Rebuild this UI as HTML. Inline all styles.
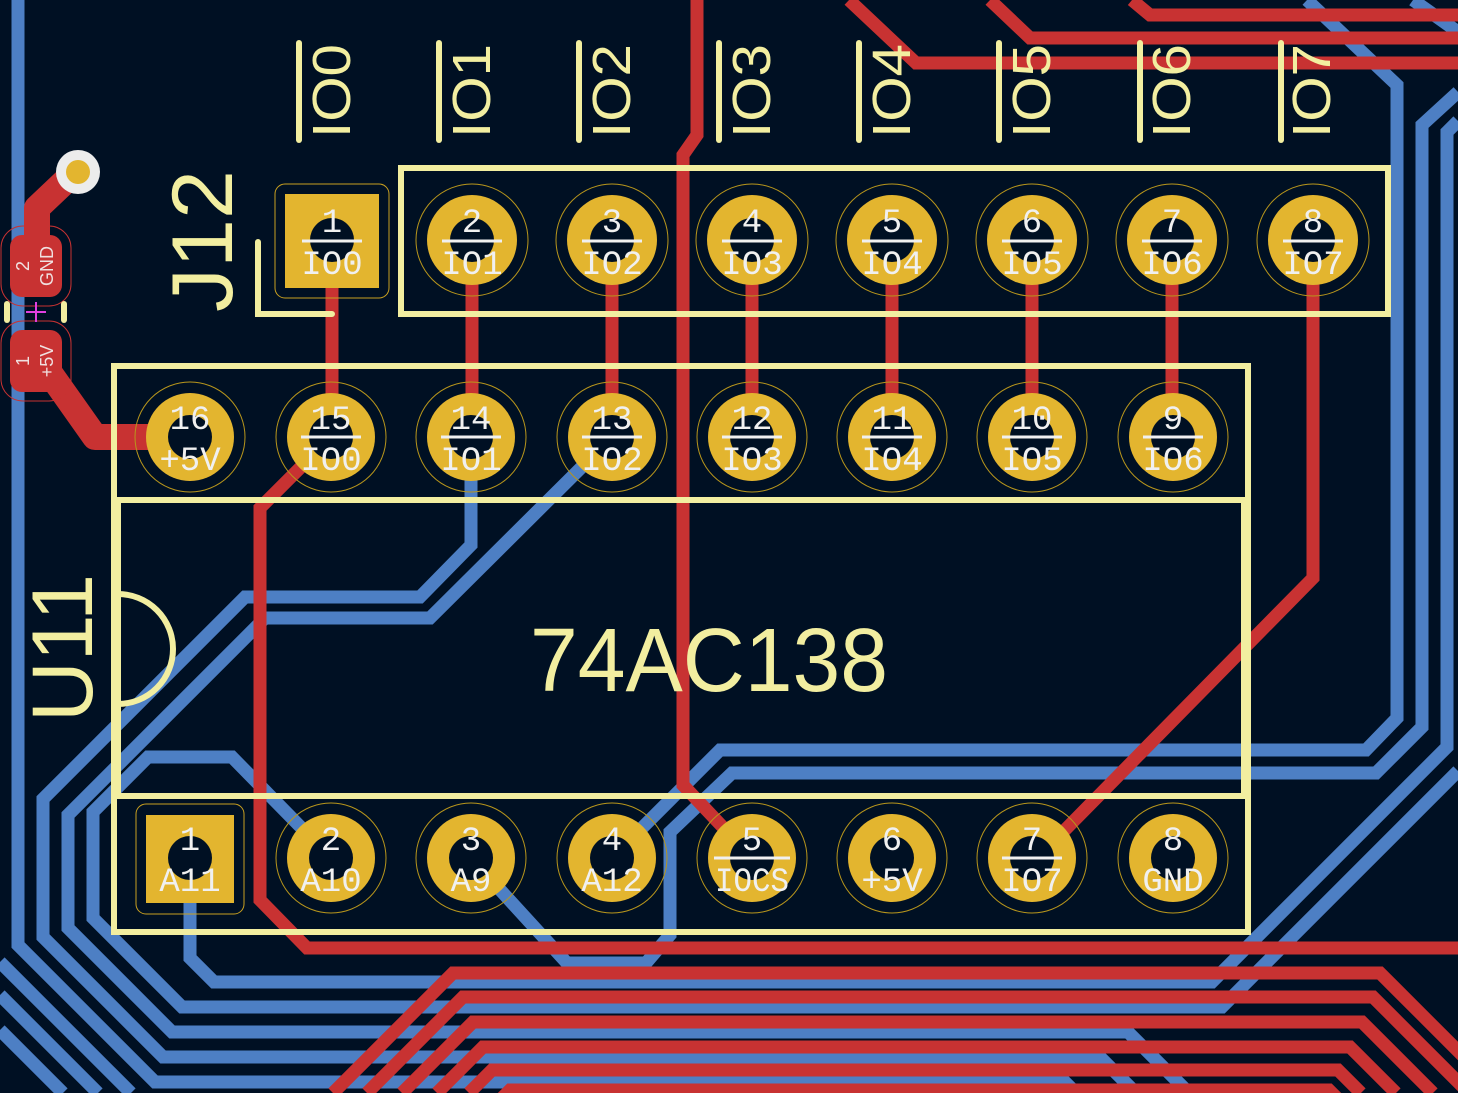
<!DOCTYPE html>
<html><head><meta charset="utf-8"><style>html,body{margin:0;padding:0;background:#001023;}svg{display:block}</style></head>
<body>
<svg width="1458" height="1093" viewBox="0 0 1458 1093" xmlns="http://www.w3.org/2000/svg">
<rect width="1458" height="1093" fill="#001023"/>
<g fill="none" stroke="#4d7fc4" stroke-width="13" stroke-linejoin="miter">
<polyline points="18,0 18,945 155,1082 1065,1082 1076,1093"/>
<polyline points="471,437 471,545 420,597 245,597 43,799 43,937 163,1057 1100,1057 1136,1093"/>
<polyline points="612,437 430,618 265,618 68,815 68,928 172,1032 1128,1032 1189,1093"/>
<polyline points="331,858 232,757 148,757 93,812 93,918 182,1007 1222,1007 1458,771"/>
<polyline points="190,858 190,958 214,982 1212,982 1447,747 1447,132 1458,121"/>
<polyline points="612,858 720,750 1366,750 1397,718 1397,85 1307,0"/>
<polyline points="471,858 567,963 646,963 670,935 670,832 732,773 1376,773 1422,727 1422,125 1458,92"/>
<polyline points="1413,0 1458,32"/>
<polyline points="0,962 131,1093"/>
<polyline points="0,995 98,1093"/>
<polyline points="0,1030 63,1093"/>
</g>
<g fill="none" stroke="#c83232" stroke-width="13" stroke-linejoin="miter">
<line x1="332" y1="240" x2="332" y2="437"/>
<line x1="472" y1="240" x2="472" y2="437"/>
<line x1="612" y1="240" x2="612" y2="437"/>
<line x1="752" y1="240" x2="752" y2="437"/>
<line x1="892" y1="240" x2="892" y2="437"/>
<line x1="1032" y1="240" x2="1032" y2="437"/>
<line x1="1172" y1="240" x2="1172" y2="437"/>
<polyline points="1313,240 1313,578 1060,835"/>
<polyline points="331,437 260,508 260,900 307,948 1458,948"/>
<polyline points="697,0 697,135 683,155 683,785 752,858"/>
<polyline points="849,0 916,63 1458,63"/>
<polyline points="990,0 1030,38 1458,38"/>
<polyline points="1132,0 1150,15 1458,15"/>
<polyline points="333,1093 453,973 1380,973 1500,1093"/>
<polyline points="367,1093 463,997 1373,997 1469,1093"/>
<polyline points="402,1093 473,1022 1362,1022 1433,1093"/>
<polyline points="437,1093 483,1047 1350,1047 1396,1093"/>
<polyline points="469,1093 492,1070 1338,1070 1361,1093"/>
<polyline points="500,1100 510,1090 1329,1090 1339,1100"/>
</g>
<g fill="none" stroke="#c83232" stroke-width="26" stroke-linejoin="round">
<polyline points="37,265 37,208 75,172"/>
<polyline points="37,355 95,437 190,437"/>
</g>
<circle cx="78" cy="172" r="22" fill="#ececec"/>
<circle cx="78" cy="172" r="12" fill="#e3b52f"/>
<rect x="10" y="235" width="52" height="62" rx="12" fill="#c83232"/>
<rect x="10" y="330" width="52" height="62" rx="12" fill="#c83232"/>
<rect x="1" y="226" width="70" height="80" rx="22" fill="none" stroke="#c83232" stroke-width="1"/>
<rect x="1" y="321" width="70" height="80" rx="22" fill="none" stroke="#c83232" stroke-width="1"/>
<g font-family="Liberation Sans, sans-serif" font-size="18" fill="#f0e0e0" text-anchor="middle">
<text transform="translate(29,266) rotate(-90)">2</text>
<text transform="translate(53,266) rotate(-90)">GND</text>
<text transform="translate(29,361) rotate(-90)">1</text>
<text transform="translate(53,361) rotate(-90)">+5V</text>
</g>
<g stroke="#f2eea0" stroke-width="6" stroke-linecap="round">
<line x1="7" y1="304" x2="7" y2="320"/><line x1="64" y1="304" x2="64" y2="320"/>
</g>
<g stroke="#e040e0" stroke-width="2"><line x1="26" y1="312" x2="46" y2="312"/><line x1="36" y1="302" x2="36" y2="322"/></g>
<g fill="none" stroke="#f2eea0" stroke-width="6" stroke-linecap="round">
<rect x="401" y="168" width="987" height="146"/>
<polyline points="258,242 258,314 332,314"/>
<rect x="114" y="366" width="1134" height="566"/>
<line x1="114" y1="500" x2="1248" y2="500"/>
<line x1="114" y1="796" x2="1248" y2="796"/>
<line x1="118" y1="500" x2="118" y2="796"/>
<line x1="1244" y1="500" x2="1244" y2="796"/>
<path d="M118,594 A55,55 0 0 1 118,704"/>
</g>
<g font-family="Liberation Sans, sans-serif" fill="#f2eea0">
<text transform="translate(232,312) rotate(-90)" font-size="86" textLength="142" lengthAdjust="spacingAndGlyphs">J12</text>
<text transform="translate(92,722) rotate(-90)" font-size="86" textLength="148" lengthAdjust="spacingAndGlyphs">U11</text>
<text x="530" y="691" font-size="90" textLength="358" lengthAdjust="spacingAndGlyphs">74AC138</text>
</g>
<g font-family="Liberation Sans, sans-serif" fill="#f2eea0" font-size="54">
<text transform="translate(350,138) rotate(-90)" textLength="94" lengthAdjust="spacingAndGlyphs">IO0</text>
<text transform="translate(490,138) rotate(-90)" textLength="94" lengthAdjust="spacingAndGlyphs">IO1</text>
<text transform="translate(630,138) rotate(-90)" textLength="94" lengthAdjust="spacingAndGlyphs">IO2</text>
<text transform="translate(770,138) rotate(-90)" textLength="94" lengthAdjust="spacingAndGlyphs">IO3</text>
<text transform="translate(910,138) rotate(-90)" textLength="94" lengthAdjust="spacingAndGlyphs">IO4</text>
<text transform="translate(1050,138) rotate(-90)" textLength="94" lengthAdjust="spacingAndGlyphs">IO5</text>
<text transform="translate(1190,138) rotate(-90)" textLength="94" lengthAdjust="spacingAndGlyphs">IO6</text>
<text transform="translate(1330,138) rotate(-90)" textLength="94" lengthAdjust="spacingAndGlyphs">IO7</text>
</g>
<g stroke="#f2eea0" stroke-width="6" stroke-linecap="round">
<line x1="299" y1="43" x2="299" y2="140"/><line x1="439" y1="43" x2="439" y2="140"/>
<line x1="579" y1="43" x2="579" y2="140"/><line x1="719" y1="43" x2="719" y2="140"/>
<line x1="859" y1="43" x2="859" y2="140"/><line x1="999" y1="43" x2="999" y2="140"/>
<line x1="1140" y1="43" x2="1140" y2="140"/><line x1="1281" y1="43" x2="1281" y2="140"/>
</g>
<g>
<rect x="285" y="194" width="94" height="94" fill="#e3b52f"/>
<rect x="275" y="184" width="114" height="114" rx="10" fill="none" stroke="#c9a020" stroke-width="1"/>
<circle cx="332" cy="240" r="22" fill="#001023"/>
<rect x="146" y="815" width="88" height="88" fill="#e3b52f"/>
<rect x="136" y="804" width="108" height="110" rx="10" fill="none" stroke="#c9a020" stroke-width="1"/>
<circle cx="190" cy="858" r="22" fill="#001023"/>
<g fill="#e3b52f">
<circle cx="472" cy="240" r="45"/><circle cx="612" cy="240" r="45"/><circle cx="752" cy="240" r="45"/><circle cx="892" cy="240" r="45"/><circle cx="1032" cy="240" r="45"/><circle cx="1172" cy="240" r="45"/><circle cx="1313" cy="240" r="45"/>
<circle cx="190" cy="437" r="44"/><circle cx="331" cy="437" r="44"/><circle cx="471" cy="437" r="44"/><circle cx="612" cy="437" r="44"/><circle cx="752" cy="437" r="44"/><circle cx="892" cy="437" r="44"/><circle cx="1032" cy="437" r="44"/><circle cx="1173" cy="437" r="44"/>
<circle cx="331" cy="858" r="44"/><circle cx="471" cy="858" r="44"/><circle cx="612" cy="858" r="44"/><circle cx="752" cy="858" r="44"/><circle cx="892" cy="858" r="44"/><circle cx="1032" cy="858" r="44"/><circle cx="1173" cy="858" r="44"/>
</g>
<g fill="#001023">
<circle cx="472" cy="240" r="22"/><circle cx="612" cy="240" r="22"/><circle cx="752" cy="240" r="22"/><circle cx="892" cy="240" r="22"/><circle cx="1032" cy="240" r="22"/><circle cx="1172" cy="240" r="22"/><circle cx="1313" cy="240" r="22"/>
<circle cx="190" cy="437" r="22"/><circle cx="331" cy="437" r="22"/><circle cx="471" cy="437" r="22"/><circle cx="612" cy="437" r="22"/><circle cx="752" cy="437" r="22"/><circle cx="892" cy="437" r="22"/><circle cx="1032" cy="437" r="22"/><circle cx="1173" cy="437" r="22"/>
<circle cx="331" cy="858" r="22"/><circle cx="471" cy="858" r="22"/><circle cx="612" cy="858" r="22"/><circle cx="752" cy="858" r="22"/><circle cx="892" cy="858" r="22"/><circle cx="1032" cy="858" r="22"/><circle cx="1173" cy="858" r="22"/>
</g>
<g fill="none" stroke="#b8961c" stroke-width="1">
<circle cx="472" cy="240" r="56"/><circle cx="612" cy="240" r="56"/><circle cx="752" cy="240" r="56"/><circle cx="892" cy="240" r="56"/><circle cx="1032" cy="240" r="56"/><circle cx="1172" cy="240" r="56"/><circle cx="1313" cy="240" r="56"/>
<circle cx="190" cy="437" r="55"/><circle cx="331" cy="437" r="55"/><circle cx="471" cy="437" r="55"/><circle cx="612" cy="437" r="55"/><circle cx="752" cy="437" r="55"/><circle cx="892" cy="437" r="55"/><circle cx="1032" cy="437" r="55"/><circle cx="1173" cy="437" r="55"/>
<circle cx="331" cy="858" r="55"/><circle cx="471" cy="858" r="55"/><circle cx="612" cy="858" r="55"/><circle cx="752" cy="858" r="55"/><circle cx="892" cy="858" r="55"/><circle cx="1032" cy="858" r="55"/><circle cx="1173" cy="858" r="55"/>
</g>
</g>
<g font-family="Liberation Mono, monospace" font-size="34" fill="#f0f0f0" text-anchor="middle">
<text x="332" y="232">1</text><text x="332" y="274">IO0</text>
<text x="472" y="232">2</text><text x="472" y="274">IO1</text>
<text x="612" y="232">3</text><text x="612" y="274">IO2</text>
<text x="752" y="232">4</text><text x="752" y="274">IO3</text>
<text x="892" y="232">5</text><text x="892" y="274">IO4</text>
<text x="1032" y="232">6</text><text x="1032" y="274">IO5</text>
<text x="1172" y="232">7</text><text x="1172" y="274">IO6</text>
<text x="1313" y="232">8</text><text x="1313" y="274">IO7</text>
<text x="190" y="429">16</text><text x="190" y="470">+5V</text>
<text x="331" y="429">15</text><text x="331" y="470">IO0</text>
<text x="471" y="429">14</text><text x="471" y="470">IO1</text>
<text x="612" y="429">13</text><text x="612" y="470">IO2</text>
<text x="752" y="429">12</text><text x="752" y="470">IO3</text>
<text x="892" y="429">11</text><text x="892" y="470">IO4</text>
<text x="1032" y="429">10</text><text x="1032" y="470">IO5</text>
<text x="1173" y="429">9</text><text x="1173" y="470">IO6</text>
<text x="190" y="850">1</text><text x="190" y="891">A11</text>
<text x="331" y="850">2</text><text x="331" y="891">A10</text>
<text x="471" y="850">3</text><text x="471" y="891">A9</text>
<text x="612" y="850">4</text><text x="612" y="891">A12</text>
<text x="752" y="850">5</text><text x="752" y="891" textLength="74" lengthAdjust="spacingAndGlyphs">IOCS</text>
<text x="892" y="850">6</text><text x="892" y="891">+5V</text>
<text x="1032" y="850">7</text><text x="1032" y="891">IO7</text>
<text x="1173" y="850">8</text><text x="1173" y="891">GND</text>
</g>
<g stroke="#f0f0f0" stroke-width="3">
<line x1="302" y1="241" x2="362" y2="241"/><line x1="442" y1="241" x2="502" y2="241"/><line x1="582" y1="241" x2="642" y2="241"/><line x1="722" y1="241" x2="782" y2="241"/><line x1="862" y1="241" x2="922" y2="241"/><line x1="1002" y1="241" x2="1062" y2="241"/><line x1="1142" y1="241" x2="1202" y2="241"/><line x1="1283" y1="241" x2="1343" y2="241"/>
<line x1="301" y1="437" x2="361" y2="437"/><line x1="441" y1="437" x2="501" y2="437"/><line x1="582" y1="437" x2="642" y2="437"/><line x1="722" y1="437" x2="782" y2="437"/><line x1="862" y1="437" x2="922" y2="437"/><line x1="1002" y1="437" x2="1062" y2="437"/><line x1="1143" y1="437" x2="1203" y2="437"/>
<line x1="714" y1="858" x2="790" y2="858"/><line x1="1002" y1="858" x2="1062" y2="858"/>
</g>
</svg>
</body></html>
